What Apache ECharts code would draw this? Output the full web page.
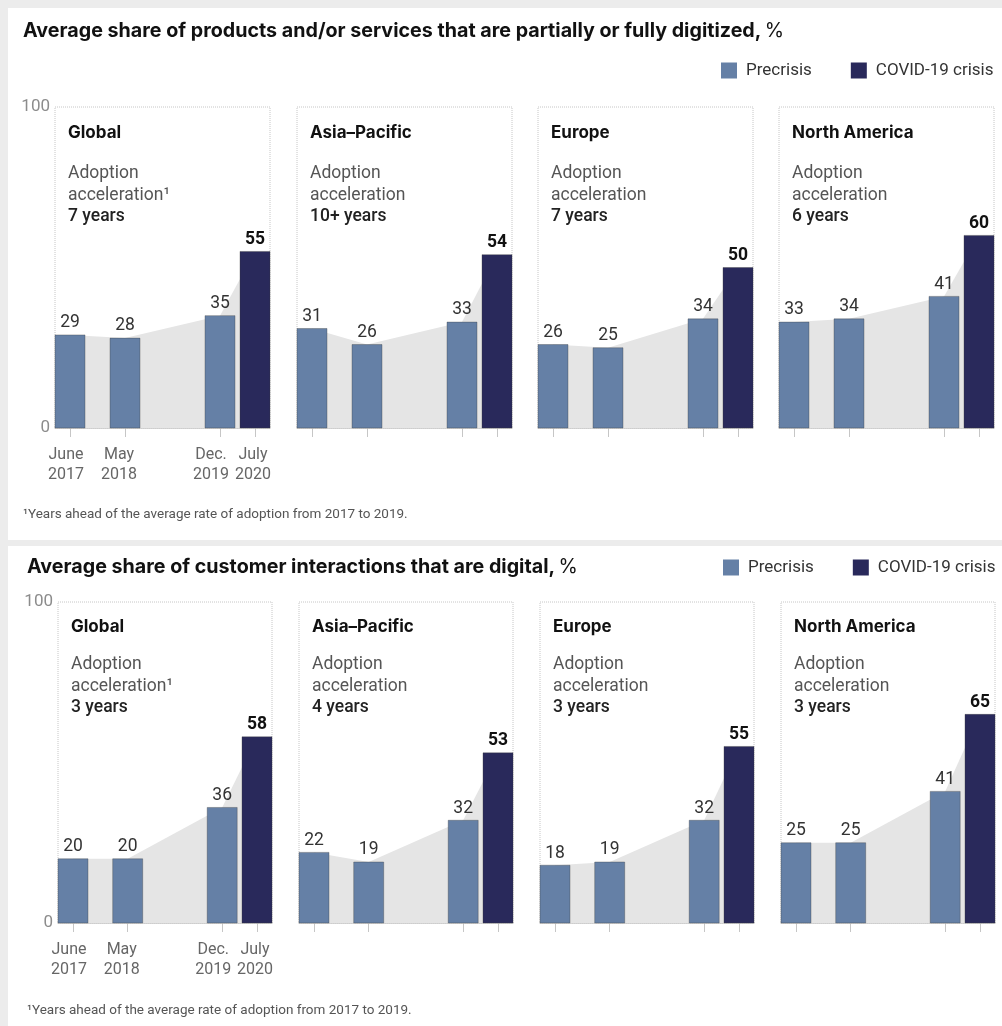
<!DOCTYPE html>
<html>
<head>
<meta charset="utf-8">
<script src="https://cdn.jsdelivr.net/npm/echarts@6/dist/echarts.min.js"></script>
<style>
  html, body { margin: 0; padding: 0; background: #ececec; }
  #chart { width: 1002px; height: 1026px; }
</style>
</head>
<body>
<div id="chart"></div>
<script>
// data
const dates = ['2017-06', '2018-05', '2019-12', '2020-07'];
const dateLabels = ['June\n2017', 'May\n2018', 'Dec.\n2019', 'July\n2020'];
const regions = ['Global', 'Asia–Pacific', 'Europe', 'North America'];
const legendNames = ['Precrisis', 'COVID-19 crisis'];

const productsTitle = 'Average share of products and/or services that are partially or fully digitized,';
const productsValues = [
  [29, 28, 35, 55],
  [31, 26, 33, 54],
  [26, 25, 34, 50],
  [33, 34, 41, 60]
];
const productsYears = ['7 years', '10+ years', '7 years', '6 years'];

const interactionsTitle = 'Average share of customer interactions that are digital,';
const interactionsValues = [
  [20, 20, 36, 58],
  [22, 19, 32, 53],
  [18, 19, 32, 55],
  [25, 25, 41, 65]
];
const interactionsYears = ['3 years', '4 years', '3 years', '3 years'];

const footnote = '¹Years ahead of the average rate of adoption from 2017 to 2019.';

// styles
const FONT = 'Roboto, "Liberation Sans", sans-serif';
const HEAD = 'Inter, Roboto, sans-serif';
const PRE = '#6580a6';
const COVID = '#29295b';
const AREA = '#e5e5e5';
const LINE = '#c6c6c6';
const HALF = 15; // half bar width, px
const labelShift = [4, 6, 9, 2]; // nudge date labels left, px

const toMonth = s => { const p = s.split('-').map(Number); return p[0] * 12 + p[1] - 1; };
const xs = dates.map(toMonth);

const panels = [
  { title: productsTitle, values: productsValues, years: productsYears,
    y: 8, h: 532, titleX: 23, titleY: 31, legendLeft: 721, legendTop: 62,
    gridTop: 107, gridH: 321, gridW: 215, lefts: [55, 297, 538, 779],
    nameDy: 26, textDy: 67, footX: 23, footY: 515 },
  { title: interactionsTitle, values: interactionsValues, years: interactionsYears,
    y: 546, h: 480, titleX: 27, titleY: 567, legendLeft: 723, legendTop: 559,
    gridTop: 602, gridH: 321, gridW: 214, lefts: [58, 299, 540, 781],
    nameDy: 25, textDy: 63, footX: 27, footY: 1011 }
];

// grey fill between the tops of neighbouring bars
function areaItem(pts) {
  return function (params, api) {
    const i = params.dataIndex;
    if (i >= pts.length - 1) return null;
    const a = api.coord(pts[i]);
    const b = api.coord(pts[i + 1]);
    const base = api.coord([pts[i][0], 0])[1];
    return {
      type: 'polygon',
      shape: { points: [[a[0], a[1]], [b[0], b[1]], [b[0], base], [a[0], base]] },
      style: { fill: AREA }
    };
  };
}

function barItem(color, labelFont, labelColor) {
  return function (params, api) {
    const x = api.value(0), v = api.value(1);
    const top = api.coord([x, v]);
    const base = api.coord([x, 0]);
    return {
      type: 'group',
      children: [
        { type: 'rect',
          shape: { x: top[0] - HALF, y: top[1], width: HALF * 2, height: base[1] - top[1] },
          style: { fill: color, stroke: 'rgba(60,60,60,0.35)', lineWidth: 1 } },
        { type: 'text', x: top[0], y: top[1] - 3,
          style: { text: String(v), align: 'center', verticalAlign: 'bottom', font: labelFont, fill: labelColor } }
      ]
    };
  };
}

const dateRich = {};
labelShift.forEach((s, i) => {
  dateRich['p' + i] = { fontFamily: FONT, fontSize: 16, lineHeight: 20, color: '#666', padding: [0, s * 2, 0, 0] };
});

function dateLabel(show, values) {
  return {
    show: show, customValues: values, margin: 17,
    hideOverlap: false, showMinLabel: true, showMaxLabel: true,
    formatter: v => {
      const i = xs.indexOf(v);
      if (i < 0) return '';
      return dateLabels[i].split('\n').map(s => '{p' + i + '|' + s + '}').join('\n');
    },
    rich: dateRich,
    fontFamily: FONT, fontSize: 16, lineHeight: 20, color: '#666'
  };
}

const grid = [], xAxis = [], yAxis = [], series = [], legend = [];
const graphic = [];

panels.forEach((p, pi) => {
  graphic.push({ type: 'rect', z: -10, silent: true,
    shape: { x: 8, y: p.y, width: 994, height: p.h }, style: { fill: '#fff' } });
  graphic.push({ type: 'text', z: 10, x: p.titleX, y: p.titleY,
    style: { text: '{b|' + p.title + '} {r|%}', verticalAlign: 'middle',
      rich: { b: { font: 'bold 19.7px ' + HEAD, fill: '#111' }, r: { font: '19.7px ' + HEAD, fill: '#111' } } } });
  graphic.push({ type: 'text', z: 10, x: p.footX, y: p.footY,
    style: { text: footnote, verticalAlign: 'middle', font: '13.5px ' + FONT, fill: '#555' } });

  legend.push({ left: p.legendLeft, top: p.legendTop, padding: 0, icon: 'rect',
    itemWidth: 16, itemHeight: 16, itemGap: 39, selectedMode: false, data: legendNames,
    textStyle: { fontFamily: FONT, fontSize: 17, color: '#333', padding: [0, 0, 0, 4] } });

  regions.forEach((name, ri) => {
    const gi = pi * 4 + ri;
    const vals = p.values[ri];
    const left = p.lefts[ri];
    const pts = xs.map((x, i) => [x, vals[i]]);
    const pad = (xs[xs.length - 1] - xs[0]) * HALF / (p.gridW - 2 * HALF);
    const xMin = xs[0] - pad, xMax = xs[xs.length - 1] + pad;

    grid.push({ left: left, top: p.gridTop, width: p.gridW, height: p.gridH,
      show: true, borderColor: LINE, borderWidth: 1, borderType: 'dotted' });

    const xi = xAxis.length;
    // main axis: line, ticks, labels at even positions
    xAxis.push({
      type: 'value', gridIndex: gi, position: 'bottom', min: xMin, max: xMax,
      splitLine: { show: false },
      axisLine: { show: true, onZero: false, lineStyle: { color: LINE, width: 1.5 } },
      axisTick: { show: true, customValues: xs, length: 9, lineStyle: { color: LINE } },
      axisLabel: dateLabel(ri === 0, xs.filter((x, i) => i % 2 === 0))
    });
    if (ri === 0) {
      // second axis only carries the odd labels so neighbours are not hidden
      xAxis.push({
        type: 'value', gridIndex: gi, position: 'bottom', offset: 0, min: xMin, max: xMax,
        splitLine: { show: false }, axisLine: { show: false, onZero: false }, axisTick: { show: false },
        axisLabel: dateLabel(true, xs.filter((x, i) => i % 2 === 1))
      });
    }
    yAxis.push({
      type: 'value', gridIndex: gi, min: 0, max: 100, interval: 100,
      splitLine: { show: false }, axisLine: { show: false }, axisTick: { show: false },
      axisLabel: { show: ri === 0, margin: 5, fontFamily: FONT, fontSize: 17, color: '#8c8c8c' }
    });

    graphic.push({ type: 'text', z: 10, x: left + 13, y: p.gridTop + p.nameDy,
      style: { text: name, verticalAlign: 'middle', font: 'bold 17px ' + HEAD, fill: '#111' } });
    graphic.push({ type: 'text', z: 10, x: left + 13, y: p.gridTop + p.textDy - 10.75,
      style: {
        text: '{a|Adoption}\n{a|acceleration' + (ri === 0 ? '¹' : '') + '}\n{y|' + p.years[ri] + '}',
        verticalAlign: 'top',
        rich: {
          a: { font: '17.5px ' + FONT, fill: '#555', lineHeight: 21.5 },
          y: { font: '500 17.5px ' + FONT, fill: '#222', lineHeight: 21.5 }
        }
      } });

    series.push({ type: 'custom', name: 'area', xAxisIndex: xi, yAxisIndex: gi, z: 1, silent: true,
      data: pts, encode: { x: 0, y: 1 }, renderItem: areaItem(pts) });
    series.push({ type: 'custom', name: legendNames[0], xAxisIndex: xi, yAxisIndex: gi, z: 2,
      itemStyle: { color: PRE }, data: pts.slice(0, 3), encode: { x: 0, y: 1 },
      renderItem: barItem(PRE, '17.5px ' + FONT, '#333') });
    series.push({ type: 'custom', name: legendNames[1], xAxisIndex: xi, yAxisIndex: gi, z: 2,
      itemStyle: { color: COVID }, data: pts.slice(3), encode: { x: 0, y: 1 },
      renderItem: barItem(COVID, 'bold 17.5px ' + FONT, '#111') });
  });
});

const chart = echarts.init(document.getElementById('chart'));
chart.setOption({
  backgroundColor: '#ececec',
  animation: false,
  tooltip: { show: false },
  legend: legend,
  grid: grid,
  xAxis: xAxis,
  yAxis: yAxis,
  graphic: graphic,
  series: series
});
</script>
</body>
</html>
